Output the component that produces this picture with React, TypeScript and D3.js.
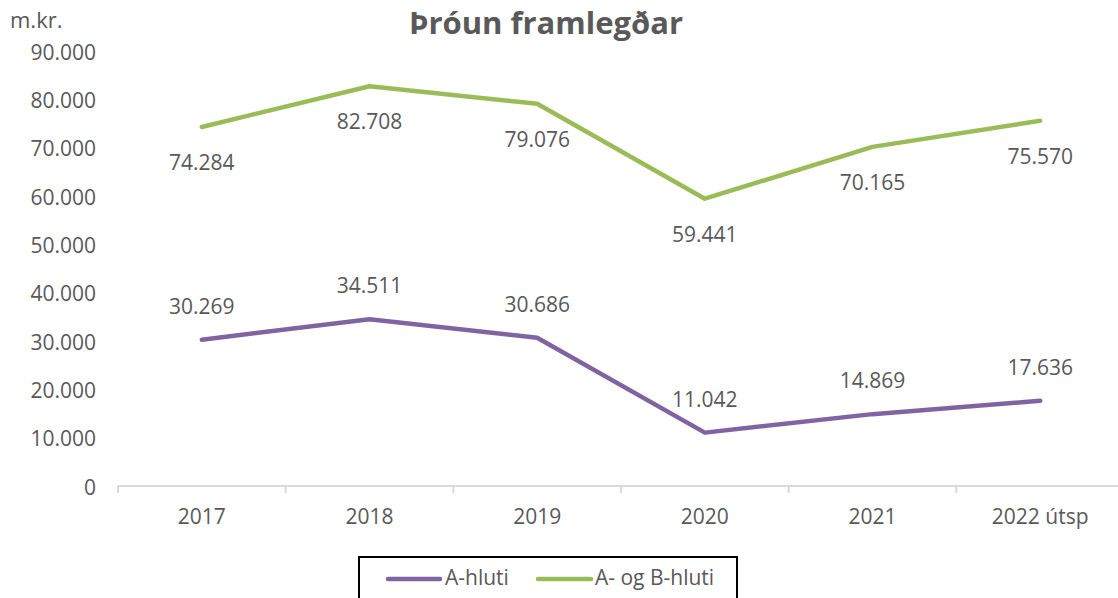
import React from "react";
import * as d3 from "d3";

const categories = ["2017", "2018", "2019", "2020", "2021", "2022 útsp"];
const aHluti = [30269, 34511, 30686, 11042, 14869, 17636];
const abHluti = [74284, 82708, 79076, 59441, 70165, 75570];
const yTicks = [0, 10000, 20000, 30000, 40000, 50000, 60000, 70000, 80000, 90000];

const W = 1118, H = 598;
const FONT = "'Open Sans', 'Noto Sans', sans-serif";
const TXT = "#595959";
const PURPLE = "#8064A2";
const GREEN = "#9BBB59";
const FS = 21;

const fmt = (v: number) => {
  if (v === 0) return "0";
  const s = Math.round(v).toString();
  return s.replace(/\B(?=(\d{3})+(?!\d))/g, ".");
};

export default function App() {
  const x = d3.scaleBand<string>().domain(categories).range([118, 1124]);
  const y = d3.scaleLinear().domain([0, 90000]).range([486, 51]);
  const cx = (c: string) => (x(c) as number) + x.bandwidth() / 2;
  const line = d3
    .line<number>()
    .x((_, i) => cx(categories[i]))
    .y((d) => y(d));
  const tickXs = categories.map((c) => x(c) as number);
  tickXs.push(x.range()[1]);

  return (
    <svg width={W} height={H} style={{ position: "absolute", left: 0, top: 0, background: "#fff" }} fontFamily={FONT}>
      <text x={546} y={34} textAnchor="middle" fontSize={31} fontWeight="bold" fill={TXT}>
        Þróun framlegðar
      </text>
      <text x={10} y={28} fontSize={22} fill={TXT}>m.kr.</text>
      {yTicks.map((t) => (
        <text key={t} x={96} y={y(t) + 8.5} textAnchor="end" fontSize={FS} fill={TXT}>
          {fmt(t)}
        </text>
      ))}
      <line x1={118} x2={1118} y1={y(0)} y2={y(0)} stroke="#d9d9d9" strokeWidth={2} />
      {tickXs.map((tx, i) => (
        <line key={i} x1={tx} x2={tx} y1={y(0)} y2={y(0) + 7} stroke="#d9d9d9" strokeWidth={2} />
      ))}
      {categories.map((c) => (
        <text key={c} x={cx(c)} y={524} textAnchor="middle" fontSize={FS} fill={TXT}>
          {c}
        </text>
      ))}
      <path d={line(abHluti) || ""} fill="none" stroke={GREEN} strokeWidth={4.5} strokeLinecap="round" strokeLinejoin="round" />
      <path d={line(aHluti) || ""} fill="none" stroke={PURPLE} strokeWidth={4.5} strokeLinecap="round" strokeLinejoin="round" />
      {abHluti.map((v, i) => (
        <text key={"g" + i} x={cx(categories[i])} y={y(v) + 43} textAnchor="middle" fontSize={FS} fill={TXT}>
          {fmt(v)}
        </text>
      ))}
      {aHluti.map((v, i) => (
        <text key={"p" + i} x={cx(categories[i])} y={y(v) - 26} textAnchor="middle" fontSize={FS} fill={TXT}>
          {fmt(v)}
        </text>
      ))}
      <rect x={359} y={557} width={378} height={50} fill="#fff" stroke="#000" strokeWidth={2} />
      <line x1={388} x2={440} y1={579} y2={579} stroke={PURPLE} strokeWidth={4.5} strokeLinecap="round" />
      <text x={445} y={585} fontSize={FS} fill={TXT}>A-hluti</text>
      <line x1={538} x2={591} y1={579} y2={579} stroke={GREEN} strokeWidth={4.5} strokeLinecap="round" />
      <text x={595} y={585} fontSize={FS} fill={TXT}>A- og B-hluti</text>
    </svg>
  );
}
